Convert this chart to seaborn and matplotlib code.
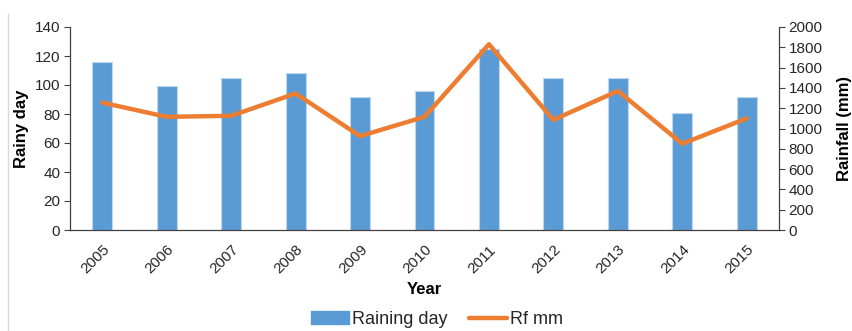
import numpy as np
import pandas as pd
import matplotlib
matplotlib.use('Agg')
import matplotlib.pyplot as plt
import seaborn as sns
from matplotlib.patches import Patch
from matplotlib.lines import Line2D

years = ['2005', '2006', '2007', '2008', '2009', '2010', '2011', '2012', '2013', '2014', '2015']
raining_day = [116, 99, 105, 108, 92, 96, 125, 105, 105, 81, 92]
rainfall_mm = [1255, 1115, 1125, 1345, 925, 1115, 1830, 1085, 1370, 850, 1100]

sns.set_style('white')
plt.rcParams['font.family'] = ['Liberation Sans', 'DejaVu Sans']

df = pd.DataFrame({'year': years, 'rain_day': raining_day, 'rf': rainfall_mm})
df['pos'] = np.arange(len(years))

bar_col = '#5B9BD5'
line_col = '#ED7D31'
txt_col = '#262626'

fig = plt.figure(figsize=(8.52, 3.31), dpi=100)
ax = fig.add_axes([70 / 852, 1 - 230 / 331, 709 / 852, 203 / 331])
sns.barplot(data=df, x='year', y='rain_day', color=bar_col, width=0.31,
            saturation=1, edgecolor='#BDD7EE', linewidth=0.8, ax=ax)
ax.set_xlim(-0.5, len(years) - 0.5)
ax.set_ylim(0, 140)
ax.set_yticks(range(0, 141, 20))
ax.set_xlabel('Year', fontsize=12, fontweight='bold', color='black', labelpad=4)
ax.set_ylabel('Rainy day', fontsize=12, fontweight='bold', color='black', labelpad=4)
ax.tick_params(axis='y', length=4, width=0.8, color='#404040', labelsize=11, labelcolor=txt_col, pad=3)
ax.tick_params(axis='x', length=0, labelsize=11, labelcolor=txt_col, pad=9)
plt.setp(ax.get_xticklabels(), rotation=45, ha='right', rotation_mode='anchor')

ax2 = ax.twinx()
sns.lineplot(data=df, x='pos', y='rf', color=line_col, linewidth=3.2, ax=ax2)
ax2.set_ylim(0, 2000)
ax2.set_yticks(range(0, 2001, 200))
ax2.set_ylabel('Rainfall (mm)', fontsize=12, fontweight='bold', color='black', labelpad=10)
ax2.tick_params(axis='y', length=4, width=0.8, color='#404040', labelsize=11, labelcolor=txt_col, pad=3)
ax2.set_xlim(-0.5, len(years) - 0.5)

for a in (ax, ax2):
    for s in a.spines.values():
        s.set_visible(False)
    a.grid(False)
ax.spines['left'].set_visible(True)
ax.spines['bottom'].set_visible(True)
ax2.spines['right'].set_visible(True)
for s in (ax.spines['left'], ax.spines['bottom'], ax2.spines['right']):
    s.set_color('#404040')
    s.set_linewidth(0.9)

handles = [Patch(facecolor=bar_col, edgecolor=bar_col),
           Line2D([0], [0], color=line_col, linewidth=3.2)]
fig.legend(handles, ['Raining day', 'Rf mm'], loc='center', bbox_to_anchor=(0.513, 0.035),
           ncol=2, frameon=False, fontsize=13, handlelength=2.1, handleheight=0.7,
           columnspacing=1.2, handletextpad=0.15, labelcolor=txt_col)

fig.add_artist(Line2D([8 / 852, 8 / 852], [0, 1 - 14 / 331], color='#D9D9D9', linewidth=1))

fig.savefig('out.png', dpi=100)
